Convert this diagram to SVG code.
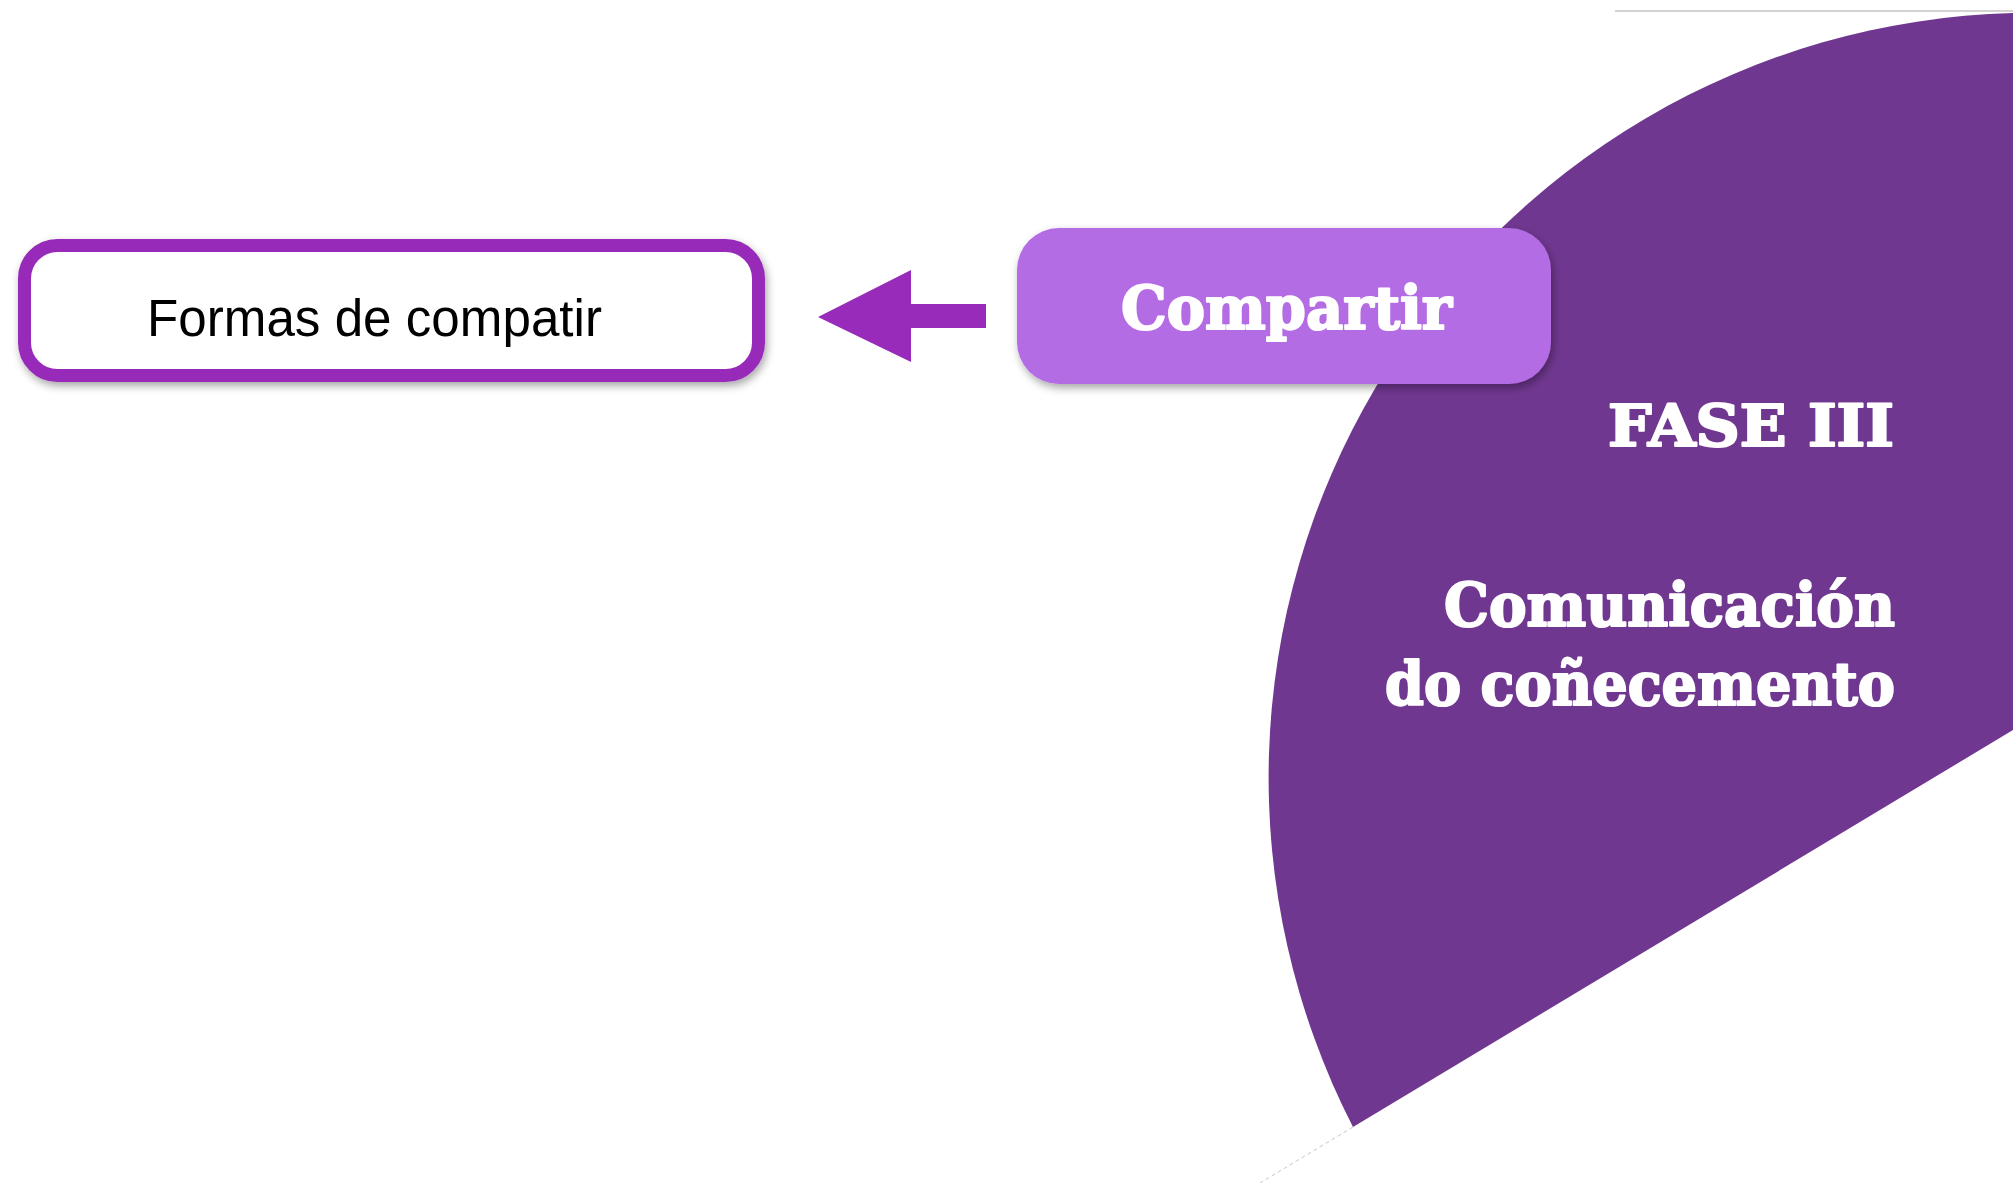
<svg xmlns="http://www.w3.org/2000/svg" width="2013" height="1183" viewBox="0 0 2013 1183">
  <defs>
    <filter id="shadow" x="-10%" y="-20%" width="120%" height="150%">
      <feDropShadow dx="2" dy="4" stdDeviation="4" flood-color="#000" flood-opacity="0.35"/>
    </filter>
    <style>
      .slab { font-family: "DejaVu Serif", "Liberation Serif", serif; font-weight: bold; fill: #ffffff; stroke: #ffffff; stroke-width: 2.2; stroke-linejoin: round; }
      .sans { font-family: "Liberation Sans", Arial, sans-serif; fill: #000000; }
    </style>
  </defs>
  <rect width="2013" height="1183" fill="#ffffff"/>

  <g id="phase-wedge">
    <line x1="1615" y1="11" x2="2013" y2="11" stroke="#c4c4c4" stroke-width="1.5"/>
    <line x1="1353" y1="1127" x2="1260" y2="1183" stroke="#c8c8c8" stroke-width="1" stroke-dasharray="4 3"/>
    <path d="M 1353 1127 A 765 765 0 0 1 2013 13 L 2013 730 Z" fill="#703790"/>
    <text class="slab" x="1608" y="446" font-size="57" textLength="286" lengthAdjust="spacingAndGlyphs">FASE III</text>
    <text class="slab" x="1444" y="626" font-size="60" textLength="451" lengthAdjust="spacingAndGlyphs">Comunicación</text>
    <text class="slab" x="1385" y="705" font-size="60" textLength="510" lengthAdjust="spacingAndGlyphs">do coñecemento</text>
  </g>

  <g id="formas-node">
    <rect x="24.5" y="245.5" width="734" height="130" rx="33" ry="33" fill="#ffffff" stroke="#982bb9" stroke-width="13" filter="url(#shadow)"/>
    <text class="sans" x="147" y="336" font-size="51" textLength="455" lengthAdjust="spacingAndGlyphs">Formas de compatir</text>
  </g>

  <g id="connectors">
    <polygon points="818,317 911,270 911,304 986,304 986,328 911,328 911,362" fill="#982bb9"/>
  </g>

  <g id="compartir-node">
    <rect x="1017" y="228" width="534" height="156" rx="42" ry="42" fill="#b36ce3" filter="url(#shadow)"/>
    <text class="slab" x="1121" y="329" font-size="60" textLength="331" lengthAdjust="spacingAndGlyphs">Compartir</text>
  </g>
</svg>
